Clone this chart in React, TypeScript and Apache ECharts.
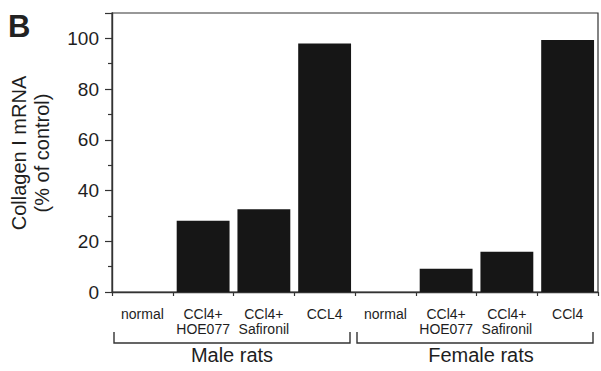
import React, { useEffect, useRef } from "react";
import * as echarts from "echarts";

const categories = [
  "normal",
  "CCl4+\nHOE077",
  "CCl4+\nSafironil",
  "CCL4",
  "normal",
  "CCl4+\nHOE077",
  "CCl4+\nSafironil",
  "CCl4",
];
const collagenValues = [0, 28.1, 32.6, 98.0, 0, 9.2, 15.9, 99.4];
const groupNames = ["Male rats", "Female rats"];
const groupStart = [0, 4];
const groupEnd = [3, 7];
const yMin = 0;
const yMax = 110;
const yInterval = 20;
const yLabelMax = 100;

const FONT = "'Liberation Sans', Arial, Helvetica, sans-serif";
const INK = "#1e1e1e";

export default function App() {
  const ref = useRef<HTMLDivElement>(null);
  useEffect(() => {
    if (!ref.current) return;
    const chart = echarts.init(ref.current, null, { renderer: "svg" });
    chart.setOption({
      animation: false,
      backgroundColor: "#ffffff",
      grid: {
        left: 112,
        right: 3,
        top: 13,
        bottom: 79,
        show: true,
        borderColor: "#333",
        borderWidth: 1.2,
        backgroundColor: "transparent",
      },
      xAxis: {
        type: "category",
        data: categories,
        boundaryGap: true,
        axisLine: { lineStyle: { color: "#333", width: 1.4 } },
        axisTick: {
          show: true,
          alignWithLabel: false,
          interval: 0,
          length: 4,
          lineStyle: { color: "#333", width: 1.2 },
        },
        axisLabel: {
          interval: 0,
          fontFamily: FONT,
          fontSize: 14,
          lineHeight: 15,
          margin: 14,
          color: INK,
        },
        splitLine: { show: false },
      },
      yAxis: {
        type: "value",
        min: yMin,
        max: yMax,
        interval: yInterval,
        axisLine: { show: true, lineStyle: { color: "#333", width: 1.4 } },
        axisTick: { show: true, length: 7, lineStyle: { color: "#333", width: 1.2 } },
        minorTick: { show: true, splitNumber: 2, length: 4, lineStyle: { color: "#333", width: 1.2 } },
        splitLine: { show: false },
        minorSplitLine: { show: false },
        axisLabel: {
          fontFamily: FONT,
          fontSize: 19,
          margin: 13,
          color: INK,
          formatter: (v: number) => (v > yLabelMax ? "" : String(v)),
        },
      },
      series: [
        {
          type: "bar",
          data: collagenValues,
          barCategoryGap: "13%",
          itemStyle: { color: "#161616" },
        },
      ],
    });

    const c0 = chart.convertToPixel({ xAxisIndex: 0 }, 0) as number;
    const c1 = chart.convertToPixel({ xAxisIndex: 0 }, 1) as number;
    const band = c1 - c0;
    const y0 = chart.convertToPixel({ yAxisIndex: 0 }, 0) as number;
    const graphics: any[] = [
      {
        type: "text",
        left: 8,
        top: 11,
        style: { text: "B", font: `bold 31px ${FONT}`, fill: "#222" },
      },
      {
        type: "text",
        x: 30,
        y: 153,
        rotation: Math.PI / 2,
        style: {
          text: "Collagen I mRNA\n(% of control)",
          fontFamily: FONT,
          fontSize: 20,
          lineHeight: 23,
          fill: INK,
          align: "center",
          verticalAlign: "middle",
        },
      },
    ];
    groupNames.forEach((name, i) => {
      const l = (chart.convertToPixel({ xAxisIndex: 0 }, groupStart[i]) as number) - band / 2 + 2;
      const r = (chart.convertToPixel({ xAxisIndex: 0 }, groupEnd[i]) as number) + band / 2 - 5;
      graphics.push({
        type: "polyline",
        shape: {
          points: [
            [l, y0 + 40],
            [l, y0 + 51],
            [r, y0 + 51],
            [r, y0 + 40],
          ],
        },
        style: { stroke: "#333", lineWidth: 1.4, fill: "none" },
      });
      graphics.push({
        type: "text",
        x: (l + r) / 2 + (i === 1 ? 6 : 0),
        y: y0 + 63,
        style: {
          text: name,
          fontFamily: FONT,
          fontSize: 20,
          fill: INK,
          align: "center",
          verticalAlign: "middle",
        },
      });
    });
    chart.setOption({ graphic: graphics });

    return () => chart.dispose();
  }, []);
  return (
    <div
      ref={ref}
      style={{ position: "fixed", left: 0, top: 0, width: 601, height: 371 }}
    />
  );
}
